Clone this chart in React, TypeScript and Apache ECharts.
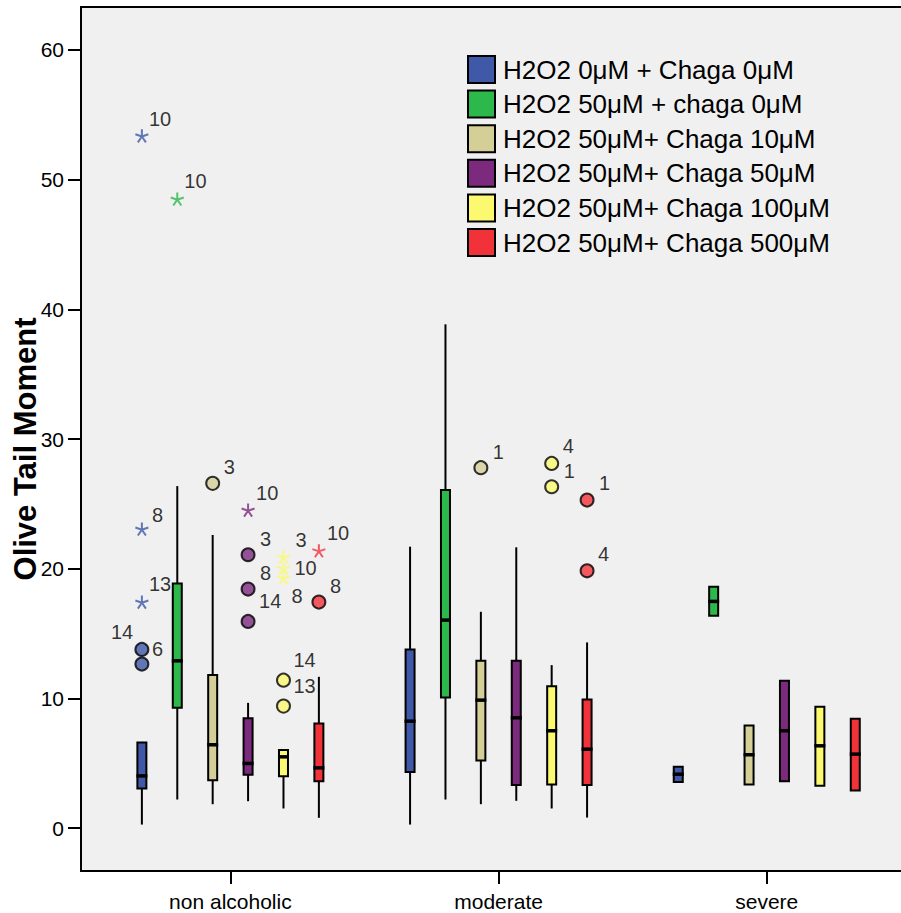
import React, { useEffect, useRef } from "react";
import * as echarts from "echarts";

// ---- data ----
const categories = ["non alcoholic", "moderate", "severe"];
const groups = [
  "H2O2 0μM + Chaga 0μM",
  "H2O2 50μM + chaga 0μM",
  "H2O2 50μM+ Chaga 10μM",
  "H2O2 50μM+ Chaga 50μM",
  "H2O2 50μM+ Chaga 100μM",
  "H2O2 50μM+ Chaga 500μM",
];
const groupColors = ["#3F58A8", "#2DB84B", "#D4CF97", "#7C2A7E", "#FBF96F", "#F13339"];
const yTitle = "Olive Tail Moment";

// box stats per category: [low whisker, Q1, median, Q3, high whisker]
const stats0 = [[0.28, 3.06, 4.03, 6.61, 6.65], [0.28, 4.34, 8.25, 13.78, 21.7], [3.57, 3.57, 4.16, 4.73, 4.73]];
const stats1 = [[2.21, 9.28, 12.9, 18.87, 26.37], [2.21, 10.08, 16.04, 26.07, 38.84], [16.37, 16.37, 17.48, 18.61, 18.61]];
const stats2 = [[1.85, 3.7, 6.43, 11.8, 22.6], [1.85, 5.22, 9.87, 12.9, 16.68], [3.37, 3.37, 5.66, 7.92, 7.92]];
const stats3 = [[2.08, 4.11, 4.99, 8.48, 9.66], [2.11, 3.32, 8.51, 12.9, 21.65], [3.62, 3.62, 7.51, 11.36, 11.36]];
const stats4 = [[1.52, 4.01, 5.5, 6.02, 6.09], [1.52, 3.37, 7.51, 10.95, 12.57], [3.27, 3.27, 6.35, 9.36, 9.36]];
const stats5 = [[0.8, 3.62, 4.65, 8.07, 11.67], [0.82, 3.32, 6.09, 9.92, 14.32], [2.91, 2.91, 5.71, 8.43, 8.43]];
const groupStats = [stats0, stats1, stats2, stats3, stats4, stats5];

// outliers (o = circle, * = extreme)
const outCat = [0, 0, 0, 0, 0, 0, 0, 0, 0, 0, 0, 0, 0, 0, 0, 0, 0, 0, 1, 1, 1, 1, 1];
const outGroup = [0, 0, 0, 0, 0, 1, 2, 3, 3, 3, 3, 4, 4, 4, 4, 4, 5, 5, 2, 4, 4, 5, 5];
const outValue = [53.37, 23.06, 17.43, 13.78, 12.65, 48.5, 26.58, 24.52, 21.08, 18.43, 15.94, 20.92, 20.05, 19.3, 11.41, 9.41, 21.39, 17.43, 27.79, 28.12, 26.32, 25.29, 19.84];
const outKind = ["*", "*", "*", "o", "o", "*", "o", "*", "o", "o", "o", "*", "*", "*", "o", "o", "*", "o", "o", "o", "o", "o", "o"];
const outCase = ["10", "8", "13", "14", "6", "10", "3", "10", "3", "8", "14", "3", "10", "8", "14", "13", "10", "8", "1", "4", "1", "1", "4"];

// label placement (pixels from the point)
const labelDx = [7, 10, 7, -31, 10, 7, 11, 8, 12, 12, 11, 12, 11, 8, 10, 10, 8, 11, 12, 11, 12, 12, 11];
const labelDy = [-17, -14, -18, -17, -15, -18, -16, -17, -16, -16, -20, -17, 0, 18, -20, -20, -18, -16, -16, -17, -16, -17, -17];

const yTicks = [0, 10, 20, 30, 40, 50, 60];

// layout constants
const GROUP_STEP = 0.132;
const X_MIN = 0.443;
const X_MAX = 3.508;
const FONT = "'Liberation Sans', Arial, sans-serif";
const STAR = "path://M0,0 L0,-10 M0,0 L9.51,-3.09 M0,0 L5.88,8.09 M0,0 L-5.88,8.09 M0,0 L-9.51,-3.09";

const xPos = (cat: number, g: number) => cat + 1 + (g - 2.5) * GROUP_STEP;

export default function App() {
  const ref = useRef<HTMLDivElement>(null);
  useEffect(() => {
    if (!ref.current) return;
    const chart = echarts.init(ref.current, undefined, { renderer: "svg" });

    const boxSeries = groups.map((name, g) => ({
      name,
      type: "custom",
      z: 2,
      encode: { x: 0, y: [1, 2, 3, 4, 5] },
      data: groupStats[g].map((s, c) => [xPos(c, g), ...s]),
      renderItem: (params: any, api: any) => {
        const x = api.value(0);
        const low = api.coord([x, api.value(1)]);
        const q1 = api.coord([x, api.value(2)]);
        const med = api.coord([x, api.value(3)]);
        const q3 = api.coord([x, api.value(4)]);
        const high = api.coord([x, api.value(5)]);
        const cx = low[0];
        const hw = 4.5;
        const children: any[] = [];
        if (low[1] - q1[1] > 0.5) {
          children.push({ type: "line", shape: { x1: cx, y1: low[1], x2: cx, y2: q1[1] }, style: { stroke: "#000", lineWidth: 2 } });
        }
        if (q3[1] - high[1] > 0.5) {
          children.push({ type: "line", shape: { x1: cx, y1: q3[1], x2: cx, y2: high[1] }, style: { stroke: "#000", lineWidth: 2 } });
        }
        children.push({
          type: "rect",
          shape: { x: cx - hw, y: q3[1], width: hw * 2, height: q1[1] - q3[1] },
          style: { fill: groupColors[g], stroke: "#000", lineWidth: 2 },
        });
        children.push({
          type: "line",
          shape: { x1: cx - hw - 1, y1: med[1], x2: cx + hw + 1, y2: med[1] },
          style: { stroke: "#000", lineWidth: 3.5 },
        });
        return { type: "group", children };
      },
    }));

    const outlierSeries = groups.map((name, g) => {
      const data: any[] = [];
      outValue.forEach((v, i) => {
        if (outGroup[i] !== g) return;
        const star = outKind[i] === "*";
        data.push({
          value: [xPos(outCat[i], g), v],
          symbol: star ? STAR : "circle",
          symbolSize: 13,
          itemStyle: star
            ? { color: groupColors[g], borderColor: groupColors[g], borderWidth: 2 }
            : { color: groupColors[g], borderColor: "#000", borderWidth: 2 },
          label: {
            show: true,
            formatter: outCase[i],
            position: "inside",
            align: "left",
            verticalAlign: "middle",
            offset: [labelDx[i], labelDy[i]],
            fontSize: 20,
            color: "#000",
            fontFamily: FONT,
          },
        });
      });
      return {
        name,
        type: "scatter",
        z: 3,
        data,
      };
    });

    chart.setOption({
      animation: false,
      backgroundColor: "#fff",
      textStyle: { fontFamily: FONT },
      grid: {
        left: 81,
        right: -2,
        top: 7,
        bottom: 42,
        outerBoundsMode: "none",
        containLabel: false,
        show: true,
        backgroundColor: "#F0F0F0",
        borderColor: "#000",
        borderWidth: 2,
      },
      graphic: [
        {
          type: "text",
          x: 25,
          y: 449,
          rotation: Math.PI / 2,
          style: {
            text: yTitle,
            align: "center",
            verticalAlign: "middle",
            fontSize: 31,
            fontWeight: "bold",
            fontFamily: FONT,
            fill: "#000",
          },
        },
      ],
      legend: {
        orient: "vertical",
        left: 467,
        top: 55,
        padding: 0,
        itemWidth: 27,
        itemHeight: 27,
        itemGap: 5.6,
        selectedMode: false,
        textStyle: { fontSize: 26, color: "#000", fontFamily: FONT, padding: [0, 0, 0, 3] },
        data: groups.map((name, g) => ({
          name,
          icon: "rect",
          itemStyle: { color: groupColors[g], borderColor: "#000", borderWidth: 2 },
        })),
      },
      xAxis: {
        type: "value",
        min: X_MIN,
        max: X_MAX,
        splitLine: { show: false },
        axisLine: { show: true, onZero: false, lineStyle: { color: "#000", width: 2 } },
        axisTick: { show: true, length: 13, lineStyle: { color: "#000", width: 2 }, customValues: [1, 2, 3] },
        axisLabel: {
          customValues: [1, 2, 3],
          formatter: (v: number) => categories[Math.round(v) - 1] ?? "",
          fontSize: 21,
          color: "#000",
          margin: 20,
          fontFamily: FONT,
        },
      },
      yAxis: {
        type: "value",
        min: -3.3,
        max: 63.3,
        splitLine: { show: false },
        axisLine: { show: true, onZero: false, lineStyle: { color: "#000", width: 2 } },
        axisTick: { show: true, length: 13, lineStyle: { color: "#000", width: 2 }, customValues: yTicks },
        axisLabel: { customValues: yTicks, fontSize: 21, color: "#000", margin: 17, fontFamily: FONT },
      },
      series: [...boxSeries, ...outlierSeries],
    });

    return () => chart.dispose();
  }, []);

  return <div ref={ref} style={{ position: "fixed", left: 0, top: 0, width: 901, height: 913 }} />;
}
